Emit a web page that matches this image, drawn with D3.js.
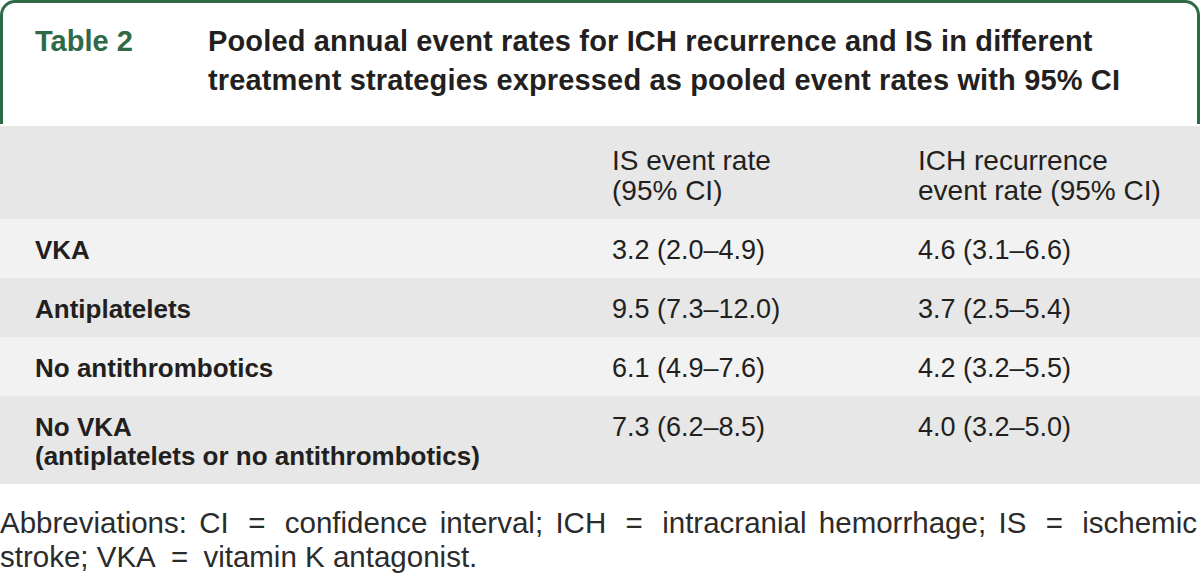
<!DOCTYPE html>
<html>
<head>
<meta charset="utf-8">
<script src="https://cdn.jsdelivr.net/npm/d3@7"></script>
<style>
  body { margin: 0; background: #fff; }
  svg { display: block; }
  text { font-family: "Liberation Sans", Arial, sans-serif; fill: #231f20; }
</style>
</head>
<body>
<div id="table"></div>
<script>
// ---- table content ----
var tableLabel = "Table 2";
var titleLines = [
  "Pooled annual event rates for ICH recurrence and IS in different",
  "treatment strategies expressed as pooled event rates with 95% CI"
];
var colHeads = [
  ["IS event rate", "(95% CI)"],
  ["ICH recurrence", "event rate (95% CI)"]
];
var rowLabels = [
  ["VKA"],
  ["Antiplatelets"],
  ["No antithrombotics"],
  ["No VKA", "(antiplatelets or no antithrombotics)"]
];
var isRate = [3.2, 9.5, 6.1, 7.3];
var isLow  = [2.0, 7.3, 4.9, 6.2];
var isHigh = [4.9, 12.0, 7.6, 8.5];
var ichRate = [4.6, 3.7, 4.2, 4.0];
var ichLow  = [3.1, 2.5, 3.2, 3.2];
var ichHigh = [6.6, 5.4, 5.5, 5.0];
var footLine1 = "Abbreviations: CI = confidence interval; ICH = intracranial hemorrhage; IS = ischemic";
var footLine2 = "stroke; VKA = vitamin K antagonist.";

var width = 1200, height = 580;
var green = "#2f6a47";
var fmt = d3.format(".1f");
function cell(r, lo, hi) { return fmt(r) + " (" + fmt(lo) + "\u2013" + fmt(hi) + ")"; }

var svg = d3.select("#table").append("svg")
    .attr("width", width)
    .attr("height", height);

svg.append("rect").attr("width", width).attr("height", height).attr("fill", "#fff");

// green frame round the caption, open at the bottom
var r = 15, sw = 3, frameBottom = 124;
var frame = d3.path();
frame.moveTo(sw / 2, frameBottom);
frame.lineTo(sw / 2, r);
frame.arcTo(sw / 2, sw / 2, r, sw / 2, r - sw / 2);
frame.lineTo(width - r, sw / 2);
frame.arcTo(width - sw / 2, sw / 2, width - sw / 2, r, r - sw / 2);
frame.lineTo(width - sw / 2, frameBottom);
svg.append("path")
    .attr("d", frame.toString())
    .attr("fill", "none")
    .attr("stroke", green)
    .attr("stroke-width", sw);

svg.append("text")
    .attr("x", 35).attr("y", 51)
    .style("font-size", "29px")
    .style("font-weight", "bold")
    .style("fill", green)
    .text(tableLabel);

svg.selectAll(".title")
    .data(titleLines)
    .enter().append("text")
    .attr("class", "title")
    .attr("x", 208)
    .attr("y", function (d, i) { return 51 + i * 39; })
    .style("font-size", "29px")
    .style("font-weight", "bold")
    .style("letter-spacing", "0.15px")
    .text(function (d) { return d; });

// ---- table body ----
var tableTop = 126, headerH = 93, rowBase = 59, lineH = 29;
var colX = [35, 612, 918];

svg.append("rect")
    .attr("x", 0).attr("y", tableTop)
    .attr("width", width).attr("height", headerH)
    .attr("fill", "#e6e7e6");

colHeads.forEach(function (lines, c) {
  svg.append("g").selectAll("text")
      .data(lines)
      .enter().append("text")
      .attr("x", colX[c + 1])
      .attr("y", function (d, i) { return tableTop + 44 + i * 30; })
      .style("font-size", "28px")
      .text(function (d) { return d; });
});

var rows = rowLabels.map(function (lab, i) {
  return {
    label: lab,
    is: cell(isRate[i], isLow[i], isHigh[i]),
    ich: cell(ichRate[i], ichLow[i], ichHigh[i]),
    h: rowBase + (lab.length - 1) * lineH
  };
});
var y0 = tableTop + headerH;
rows.forEach(function (d) { d.y = y0; y0 += d.h; });

var rowG = svg.selectAll(".row")
    .data(rows)
    .enter().append("g")
    .attr("class", "row")
    .attr("transform", function (d) { return "translate(0," + d.y + ")"; });

rowG.append("rect")
    .attr("width", width)
    .attr("height", function (d) { return d.h; })
    .attr("fill", function (d, i) { return i % 2 ? "#e6e7e6" : "#f2f2f2"; });

rowG.selectAll(".lab")
    .data(function (d) { return d.label; })
    .enter().append("text")
    .attr("class", "lab")
    .attr("x", colX[0])
    .attr("y", function (d, i) { return 40 + i * lineH; })
    .style("font-size", "26px")
    .style("font-weight", "bold")
    .text(function (d) { return d; });

rowG.append("text")
    .attr("x", colX[1]).attr("y", 40)
    .style("font-size", "27px")
    .text(function (d) { return d.is; });

rowG.append("text")
    .attr("x", colX[2]).attr("y", 40)
    .style("font-size", "27px")
    .text(function (d) { return d.ich; });

// ---- footnote: words placed one by one, first line justified ----
var footSize = "29.5px";
function placeWords(line, y, justify) {
  var words = line.split(" ");
  var wt = svg.append("g").selectAll("text")
      .data(words)
      .enter().append("text")
      .attr("y", y)
      .style("font-size", footSize)
      .style("fill", "#2b2b2b")
      .text(function (d) { return d; });
  var widths = [];
  wt.each(function () { widths.push(this.getComputedTextLength()); });
  var space = 8.2;
  var gaps = words.map(function (w, i) {
    if (i === words.length - 1) return 0;
    return (w === "=" || words[i + 1] === "=") ? space + 7 : space;
  });
  if (justify) {
    var extra = (width - 3 - d3.sum(widths) - d3.sum(gaps)) / (words.length - 1);
    gaps = gaps.map(function (g, i) { return i === words.length - 1 ? 0 : g + extra; });
  }
  var cx = 0;
  wt.attr("x", function (d, i) { var x = cx; cx += widths[i] + gaps[i]; return x; });
}
placeWords(footLine1, 533, true);
placeWords(footLine2, 567, false);
</script>
</body>
</html>
